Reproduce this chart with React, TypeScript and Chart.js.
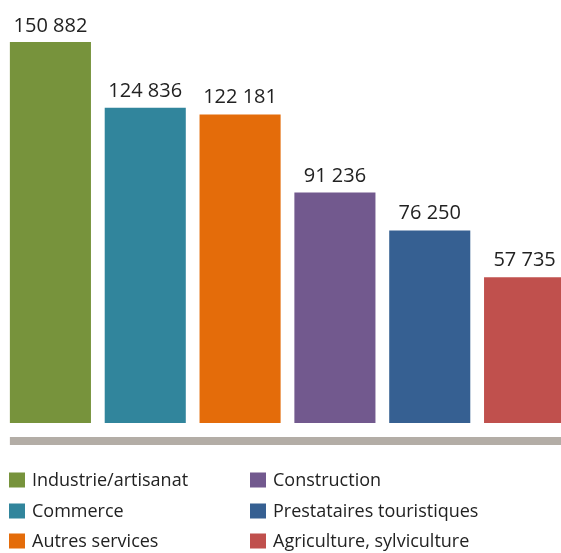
import React, { useEffect, useRef } from "react";
import { Chart, registerables } from "chart.js";

Chart.register(...registerables);

const categories = [
  "Industrie/artisanat",
  "Commerce",
  "Autres services",
  "Construction",
  "Prestataires touristiques",
  "Agriculture, sylviculture",
];
const values = [150882, 124836, 122181, 91236, 76250, 57735];
const valueLabels = ["150 882", "124 836", "122 181", "91 236", "76 250", "57 735"];
const colors = ["#77933C", "#31859C", "#E46C0A", "#72598E", "#366092", "#C0504D"];
// legend layout: two columns, column-major
const legendOrder = [0, 3, 1, 4, 2, 5];

const FONT = "'Open Sans', 'Noto Sans', sans-serif";

const valueLabelPlugin = {
  id: "valueLabels",
  afterDatasetsDraw(chart: any) {
    const ctx = chart.ctx;
    const meta = chart.getDatasetMeta(0);
    ctx.save();
    ctx.fillStyle = "#222222";
    ctx.font = `20px ${FONT}`;
    ctx.textAlign = "center";
    ctx.textBaseline = "alphabetic";
    meta.data.forEach((bar: any, i: number) => {
      ctx.fillText(valueLabels[i], bar.x, Math.max(bar.y - 11, 32));
    });
    ctx.restore();
  },
};

const baseAndLegendPlugin = {
  id: "baseAndLegend",
  afterDraw(chart: any) {
    const ctx = chart.ctx;
    const meta = chart.getDatasetMeta(0);
    const first = meta.data[0];
    const left = first.x - first.width / 2;
    ctx.save();
    // gray base band
    ctx.fillStyle = "#B3ADA6";
    ctx.fillRect(left, 437, chart.width - left, 8);
    // legend
    ctx.font = `18px ${FONT}`;
    ctx.textBaseline = "middle";
    ctx.textAlign = "left";
    const colX = [9, 250];
    const rowY = [480, 511, 541];
    legendOrder.forEach((idx, k) => {
      const col = k % 2;
      const row = Math.floor(k / 2);
      const x = colX[col];
      const cy = rowY[row];
      ctx.fillStyle = colors[idx];
      ctx.fillRect(x, cy - 7.5, 16, 15);
      ctx.fillStyle = "#222222";
      ctx.fillText(categories[idx], x + 23, cy + 1);
    });
    ctx.restore();
  },
};

export default function App() {
  const ref = useRef<HTMLCanvasElement>(null);
  useEffect(() => {
    if (!ref.current) return;
    const chart = new Chart(ref.current, {
      type: "bar",
      data: {
        labels: categories,
        datasets: [
          {
            data: values,
            backgroundColor: colors,
            borderWidth: 0,
            categoryPercentage: 1,
            barPercentage: 0.855,
          },
        ],
      },
      options: {
        responsive: false,
        animation: false,
        devicePixelRatio: 1,
        layout: { padding: { left: 3, right: 8, top: 42, bottom: 137 } },
        plugins: {
          legend: { display: false },
          tooltip: { enabled: false },
          title: { display: false },
        },
        scales: {
          x: { display: false, offset: true, grid: { display: false } },
          y: {
            display: false,
            min: 0,
            max: Math.max(...values),
            grid: { display: false },
          },
        },
      },
      plugins: [valueLabelPlugin, baseAndLegendPlugin],
    });
    return () => chart.destroy();
  }, []);
  return (
    <div
      style={{
        position: "fixed",
        left: 0,
        top: 0,
        width: 561,
        height: 553,
        overflow: "hidden",
        background: "#ffffff",
      }}
    >
      <canvas
        ref={ref}
        width={580}
        height={560}
        style={{ position: "absolute", left: 0, top: 0, width: 580, height: 560 }}
      />
    </div>
  );
}
